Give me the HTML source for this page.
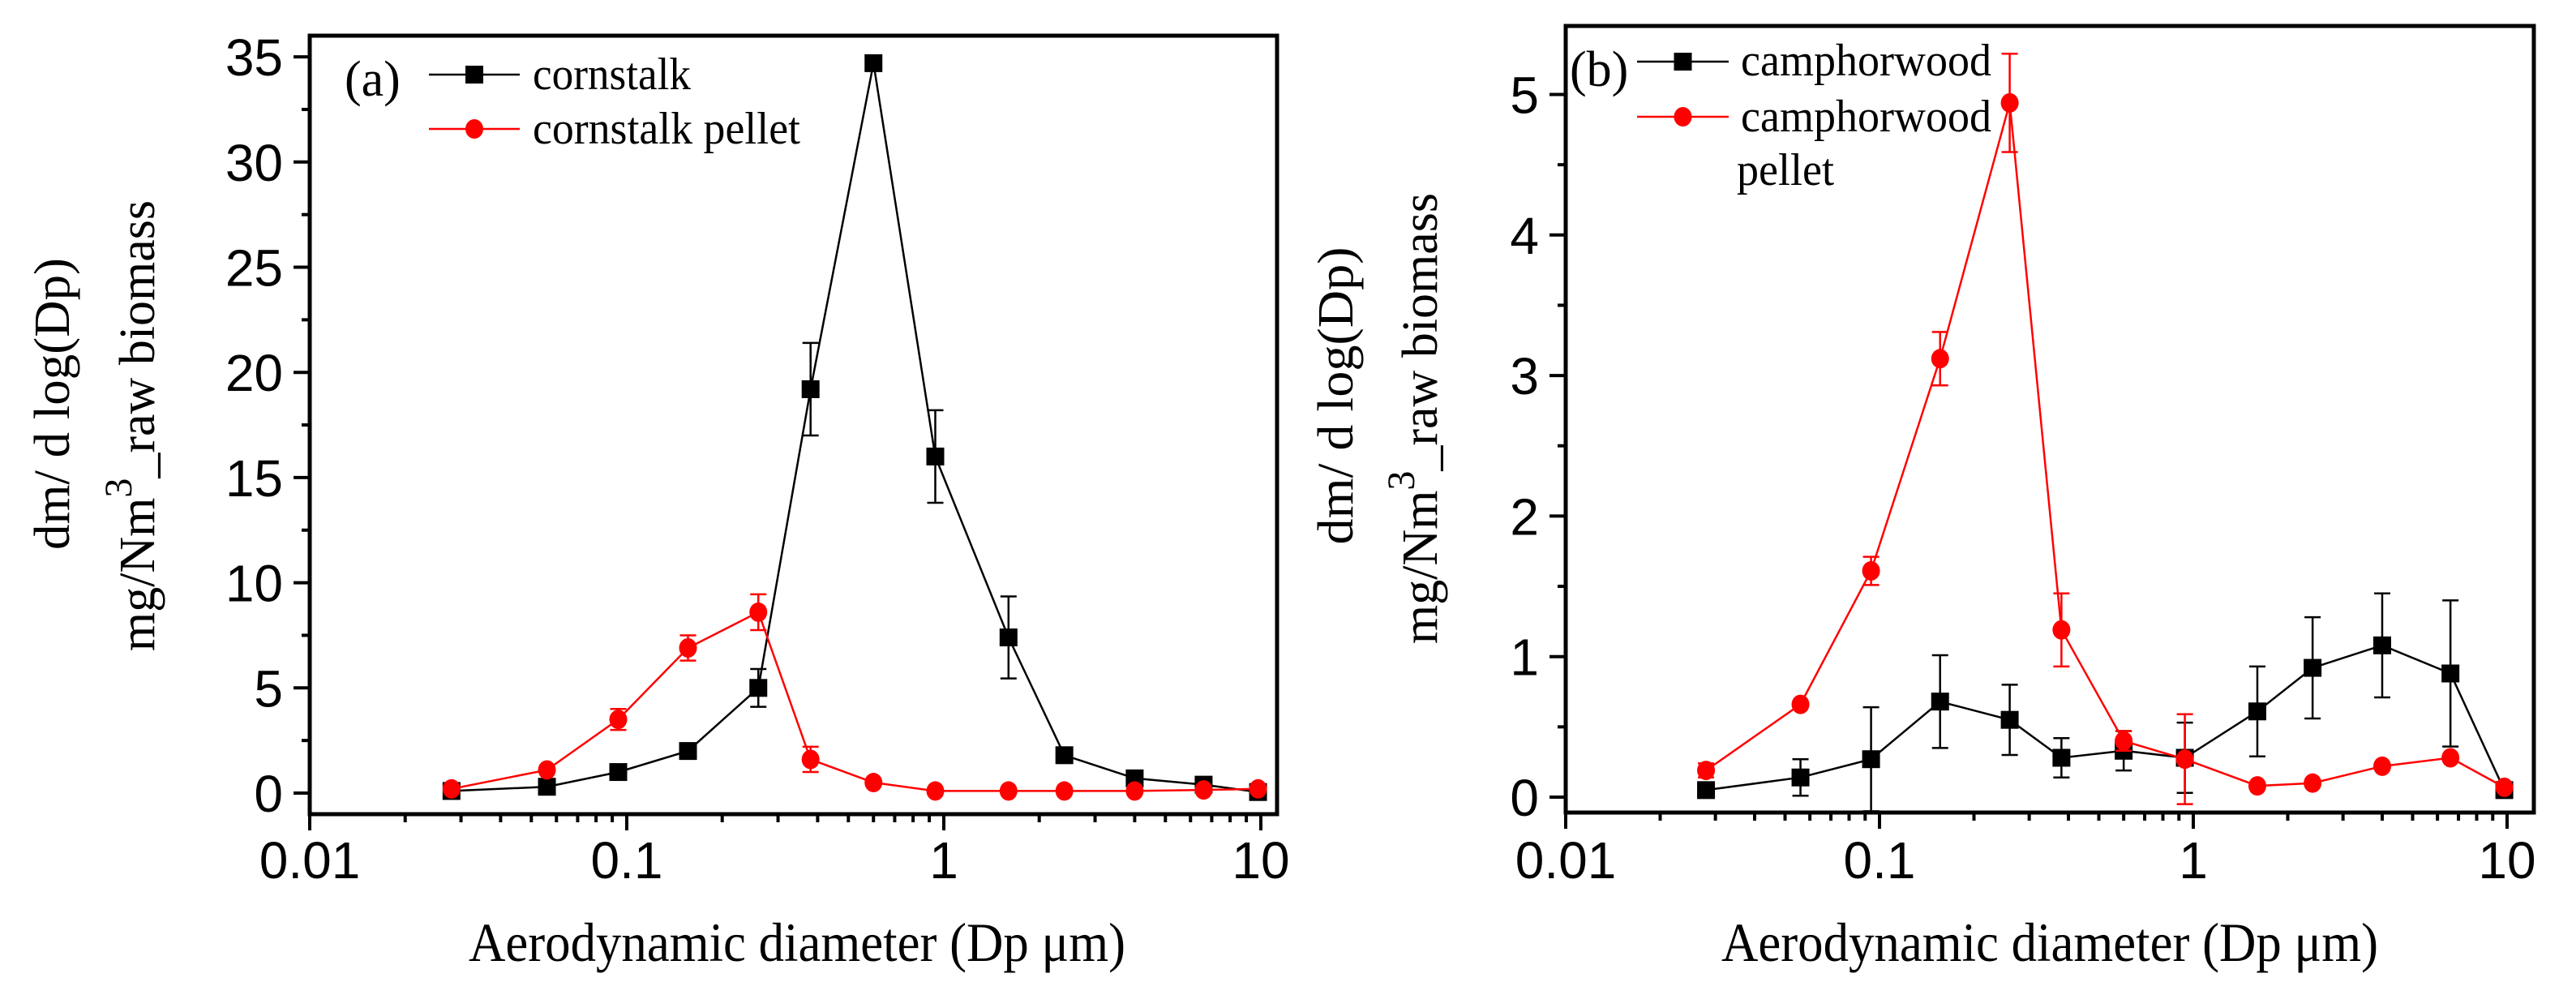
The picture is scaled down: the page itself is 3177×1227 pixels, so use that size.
<!DOCTYPE html>
<html><head><meta charset="utf-8"><style>
html,body{margin:0;padding:0;background:#fff;}
svg{display:block;}
.tick{font-family:"Liberation Sans",Arial,sans-serif;font-size:64px;fill:#000;}
.ser{font-family:"Liberation Serif","Times New Roman",serif;fill:#000;}
</style></head><body>
<svg id="chart" width="3177" height="1227" viewBox="0 0 3177 1227" xmlns="http://www.w3.org/2000/svg">
<rect width="3177" height="1227" fill="#fff"/>
<g id="pa"></g>
<g id="pb"></g>
</svg>
<script>
// shared x categories (aerodynamic diameter, µm)
const diam = [0.028,0.056,0.094,0.156,0.26,0.38,0.6,0.94,1.6,2.4,4.0,6.6,9.8];
// panel a
const cornstalk = [0.1,0.3,1.0,2.0,5.0,19.2,34.7,16.0,7.4,1.8,0.7,0.4,0.05];
const cornstalkErr = [0,0,0,0,0.9,2.2,0,2.2,1.95,0,0,0,0];
const cornPellet = [0.2,1.1,3.5,6.9,8.6,1.6,0.5,0.1,0.1,0.1,0.1,0.15,0.2];
const cornPelletErr = [0,0,0.5,0.6,0.85,0.6,0,0,0,0,0,0,0];
const yTicksA = [0,5,10,15,20,25,30,35];
// panel b
const camphor = [0.05,0.14,0.27,0.68,0.55,0.28,0.33,0.28,0.61,0.92,1.08,0.88,0.05];
const camphorErr = [0,0.13,0.37,0.33,0.25,0.14,0.14,0.25,0.32,0.36,0.37,0.52,0];
const camphorPellet = [0.19,0.66,1.61,3.12,4.94,1.19,0.4,0.27,0.08,0.1,0.22,0.28,0.07];
const camphorPelletErr = [0.05,0,0.1,0.19,0.35,0.26,0.07,0.32,0,0,0,0,0];
const yTicksB = [0,1,2,3,4,5];
const xTickLabels = ["0.01","0.1","1","10"];

const NS="http://www.w3.org/2000/svg";
function mk(parent,tag,attrs){const e=document.createElementNS(NS,tag);for(const k in attrs)e.setAttribute(k,attrs[k]);parent.appendChild(e);return e;}

function panel(g,cfg){
  const X=v=>cfg.x0+cfg.dec*(Math.log10(v)+2);
  const Y=v=>cfg.y0-cfg.unit*v;
  // frame
  const fr=mk(g,'rect',{x:cfg.left,y:cfg.top,width:cfg.right-cfg.left,height:cfg.bottom-cfg.top,fill:'none',stroke:'#000','stroke-width':5});
  
  
  // x ticks
  for(let d=0;d<4;d++){
    const v=Math.pow(10,d-2);
    const xx=X(v);
    const t=mk(g,'line',{x1:xx,y1:cfg.bottom,x2:xx,y2:cfg.bottom+20,stroke:'#000','stroke-width':4});
    
    
    const lb=mk(g,'text',{x:xx,y:1083,'text-anchor':'middle',class:'tick'});
    
    
    lb.textContent=xTickLabels[d];
    if(d<3)for(let m=2;m<10;m++){
      const mx=X(v*m);
      const mt=mk(g,'line',{x1:mx,y1:cfg.bottom,x2:mx,y2:cfg.bottom+10,stroke:'#000','stroke-width':4});
      
      
    }
  }
  // y ticks
  cfg.yt.forEach((v,i)=>{
    const yy=Y(v);
    const t=mk(g,'line',{x1:cfg.left-20,y1:yy,x2:cfg.left,y2:yy,stroke:'#000','stroke-width':4});
    
    
    const lb=mk(g,'text',{x:cfg.left-33,y:yy+23,'text-anchor':'end',class:'tick'});
    
    
    lb.textContent=String(v);
    if(i<cfg.yt.length-1||Y(v+cfg.minor)>cfg.top){
      const my=Y(v+cfg.minor);
      if(my>cfg.top+3){
        const mt=mk(g,'line',{x1:cfg.left-10,y1:my,x2:cfg.left,y2:my,stroke:'#000','stroke-width':4});
        
        
      }
    }
  });
  // series
  cfg.series.forEach(s=>{
    const sg=mk(g,'g',{});
    
    
    const pts=diam.map((d,i)=>X(d).toFixed(1)+','+Y(s.vals[i]).toFixed(1)).join(' ');
    const pl=mk(sg,'polyline',{points:pts,fill:'none',stroke:s.color,'stroke-width':2.5});
    
    
    diam.forEach((d,i)=>{
      const xx=X(d),yy=Y(s.vals[i]),e=s.err[i];
      if(e>0){
        const yt=Y(s.vals[i]+e),yb=Math.min(Y(s.vals[i]-e),cfg.bottom);
        const eb=mk(sg,'path',{d:`M${xx},${yt}V${yb}M${xx-10},${yt}H${xx+10}`+(Y(s.vals[i]-e)<cfg.bottom?`M${xx-10},${yb}H${xx+10}`:''),stroke:s.color,'stroke-width':2.5,fill:'none'});
        
        
      }
      let m;
      if(s.shape==='sq') m=mk(sg,'rect',{x:xx-11,y:yy-11,width:22,height:22,fill:s.color});
      else m=mk(sg,'ellipse',{cx:xx,cy:yy,rx:11,ry:12,fill:s.color});
      
      
    });
  });
  // x title
  const xt=mk(g,'text',{x:cfg.xtitleX,y:1185,'text-anchor':'middle',class:'ser','font-size':68,textLength:810,lengthAdjust:'spacingAndGlyphs'});
  
  
  xt.textContent='Aerodynamic diameter (Dp μm)';
  // y title
  const y1=mk(g,'text',{x:0,y:0,'text-anchor':'middle',class:'ser','font-size':62,transform:`translate(${cfg.yt1x},${cfg.yt1y}) rotate(-90)`,textLength:cfg.yt1len,lengthAdjust:'spacingAndGlyphs'});
  
  
  y1.textContent='dm/ d log(Dp)';
  const y2=mk(g,'text',{x:0,y:0,'text-anchor':'middle',class:'ser','font-size':62,transform:`translate(${cfg.yt2x},${cfg.yt2y}) rotate(-90)`});
  
  
  y2.innerHTML='mg/Nm<tspan font-size="48" dy="-28">3</tspan><tspan dy="28">_raw biomass</tspan>';
  // legend
  const lg=mk(g,'g',{});
  
  
  const pt=mk(lg,'text',{x:cfg.lab.x,y:cfg.lab.y,class:'ser','font-size':62});
  
  
  pt.textContent=cfg.lab.t;
  cfg.legend.forEach((L,i)=>{
    const s=cfg.series[i];
    const ln=mk(lg,'line',{x1:L.x1,y1:L.y,x2:L.x2,y2:L.y,stroke:s.color,'stroke-width':2.5});
    
    
    const cx=(L.x1+L.x2)/2;
    let m;
    if(s.shape==='sq') m=mk(lg,'rect',{x:cx-11,y:L.y-11,width:22,height:22,fill:s.color});
    else m=mk(lg,'ellipse',{cx:cx,cy:L.y,rx:11,ry:12,fill:s.color});
    
    
    L.lines.forEach((tx,j)=>{
      const t=mk(lg,'text',{x:L.tx+(j?-5:0),y:L.by+j*66,class:'ser','font-size':56,textLength:tx.len,lengthAdjust:'spacingAndGlyphs'});
      
      
      t.textContent=tx.t;
    });
  });
}

panel(document.getElementById('pa'),{
  left:382,right:1575,top:44,bottom:1004,x0:382,dec:391,y0:978,unit:25.94,yt:yTicksA,minor:2.5,
  xtitleX:983,yt1x:85,yt1y:498,yt1len:360,yt2x:190,yt2y:525,
  lab:{x:425,y:118,t:'(a)'},
  series:[{name:'cornstalk',vals:cornstalk,err:cornstalkErr,color:'#000',shape:'sq'},
          {name:'cornstalk-pellet',vals:cornPellet,err:cornPelletErr,color:'#ff0000',shape:'ci'}],
  legend:[{x1:529,x2:641,y:92,tx:657,by:110,lines:[{t:'cornstalk',len:195}]},
          {x1:529,x2:641,y:159,tx:657,by:177,lines:[{t:'cornstalk pellet',len:330}]}]
});
panel(document.getElementById('pb'),{
  left:1931,right:3125,top:32,bottom:1002,x0:1931,dec:387,y0:983,unit:173.3,yt:yTicksB,minor:0.5,
  xtitleX:2528,yt1x:1668,yt1y:488,yt1len:367,yt2x:1772,yt2y:516,
  lab:{x:1936,y:106,t:'(b)'},
  series:[{name:'camphorwood',vals:camphor,err:camphorErr,color:'#000',shape:'sq'},
          {name:'camphorwood-pellet',vals:camphorPellet,err:camphorPelletErr,color:'#ff0000',shape:'ci'}],
  legend:[{x1:2019,x2:2132,y:76,tx:2147,by:93,lines:[{t:'camphorwood',len:309}]},
          {x1:2019,x2:2132,y:144,tx:2147,by:162,lines:[{t:'camphorwood',len:309},{t:'pellet',len:120}]}]
});
</script>
</body></html>
